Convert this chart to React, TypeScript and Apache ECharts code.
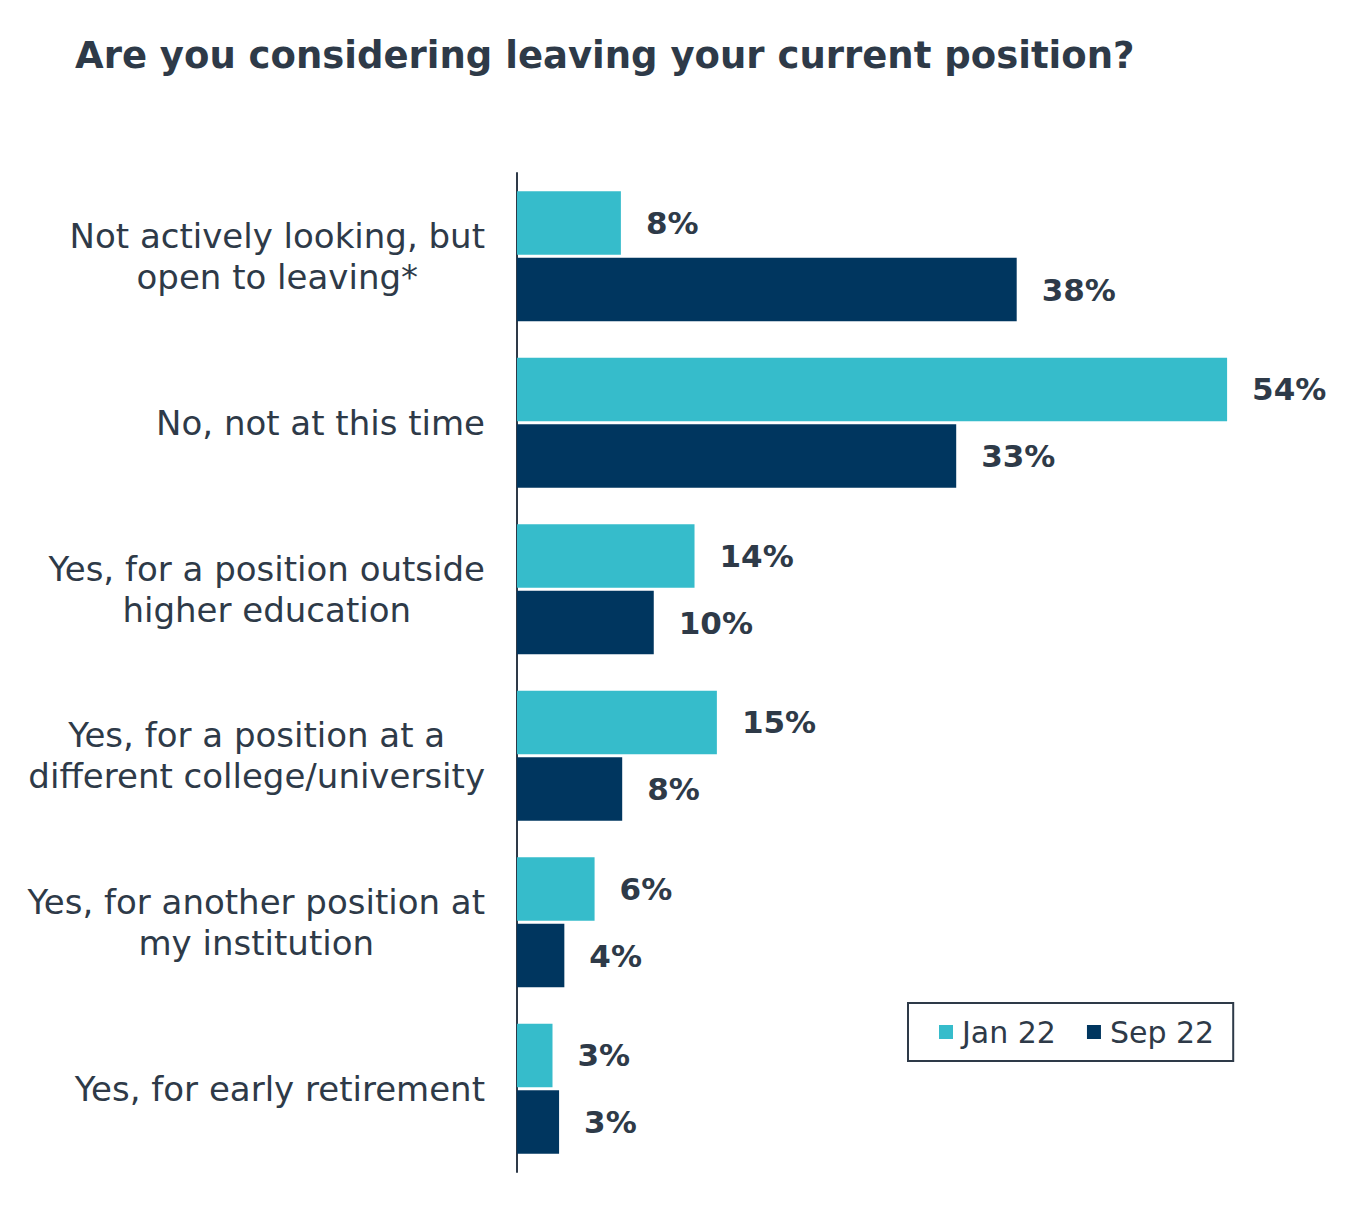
import React, { useEffect, useRef } from "react";
import * as echarts from "echarts";

const categories = [
  "Not actively looking, but\nopen to leaving*",
  "No, not at this time",
  "Yes, for a position outside\nhigher education",
  "Yes, for a position at a\ndifferent college/university",
  "Yes, for another position at\nmy institution",
  "Yes, for early retirement",
];
const seriesNames = ["Jan 22", "Sep 22"];
const jan22 = [7.9, 54.0, 13.5, 15.2, 5.9, 2.7];
const sep22 = [38.0, 33.4, 10.4, 8.0, 3.6, 3.2];

const TEXT = "#2e3a48";
const FONT = "DejaVu Sans";

export default function App() {
  const ref = useRef<HTMLDivElement>(null);
  useEffect(() => {
    const chart = echarts.init(ref.current!, null, { renderer: "svg" });
    const label = {
      show: true,
      position: "right",
      distance: 25,
      color: TEXT,
      fontFamily: FONT,
      fontWeight: "bold",
      fontSize: 31,
      formatter: (p: any) => Math.round(p.value) + "%",
    };
    chart.setOption({
      animation: false,
      backgroundColor: "#ffffff",
      title: {
        text: "Are you considering leaving your current position?",
        left: 70,
        top: 32,
        textStyle: { color: TEXT, fontFamily: FONT, fontWeight: "bold", fontSize: 37 },
      },
      legend: {
        data: seriesNames,
        left: 908,
        top: 1003,
        orient: "horizontal",
        icon: "rect",
        itemWidth: 14,
        itemHeight: 14,
        itemGap: 31,
        borderColor: TEXT,
        borderWidth: 2,
        padding: [14, 19, 14, 31],
        textStyle: { color: TEXT, fontFamily: FONT, fontSize: 30, padding: [0, 0, 0, 4] },
      },
      grid: { left: 517, right: 50, top: 173, bottom: 33, containLabel: false },
      xAxis: {
        type: "value",
        min: 0,
        max: 60,
        show: false,
        splitLine: { show: false },
      },
      yAxis: {
        type: "category",
        data: categories,
        inverse: true,
        axisLine: { show: true, lineStyle: { color: TEXT, width: 2 } },
        axisTick: { show: false },
        axisLabel: {
          margin: 32,
          color: TEXT,
          fontFamily: FONT,
          fontSize: 34,
          lineHeight: 41,
          formatter: (v: string) =>
            v
              .split("\n")
              .map((l) => "{c|" + l + "}")
              .join("\n"),
          rich: {
            c: {
              align: "center",
              color: TEXT,
              fontFamily: FONT,
              fontSize: 34,
              lineHeight: 41,
            },
          },
        },
      },
      series: [
        {
          name: seriesNames[0],
          type: "bar",
          data: jan22,
          itemStyle: { color: "#36bccb" },
          barGap: "5%",
          barCategoryGap: "22%",
          label,
        },
        {
          name: seriesNames[1],
          type: "bar",
          data: sep22,
          itemStyle: { color: "#00365f" },
          barGap: "5%",
          barCategoryGap: "22%",
          label,
        },
      ],
    });
    return () => chart.dispose();
  }, []);
  return (
    <div
      ref={ref}
      style={{ position: "fixed", left: 0, top: 0, width: 1356, height: 1205, background: "#fff" }}
    />
  );
}
